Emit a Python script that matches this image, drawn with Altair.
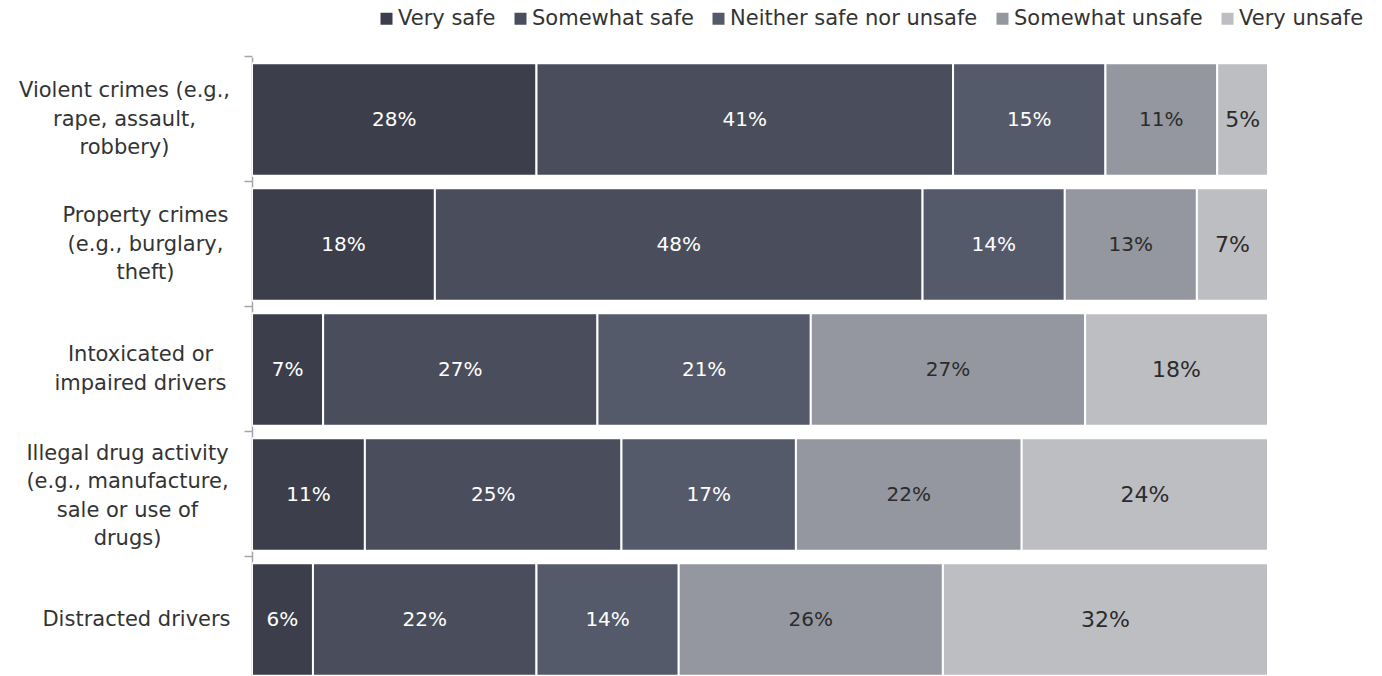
import altair as alt
import pandas as pd

categories = [
    "Violent crimes (e.g.,\nrape, assault,\nrobbery)",
    "Property crimes\n(e.g., burglary,\ntheft)",
    "Intoxicated or\nimpaired drivers",
    "Illegal drug activity\n(e.g., manufacture,\nsale or use of\ndrugs)",
    "Distracted drivers",
]
responses = ["Very safe", "Somewhat safe", "Neither safe nor unsafe", "Somewhat unsafe", "Very unsafe"]
values = [
    [28, 41, 15, 11, 5],
    [18, 48, 14, 13, 7],
    [7, 27, 21, 27, 18],
    [11, 25, 17, 22, 24],
    [6, 22, 14, 26, 32],
]
colors = ["#3c3f4b", "#4a4e5c", "#555a6a", "#94979f", "#bdbec2"]

rows = []
for ci, cat in enumerate(categories):
    for ri, resp in enumerate(responses):
        rows.append({"category": cat, "response": resp, "order": ri, "value": values[ci][ri]})
df = pd.DataFrame(rows)

FONT = "DejaVu Sans"
LH = 28.5


def nlines(n):
    return f"length(split(datum.label, '\\n')) == {n}"


label_offset = {
    "condition": [
        {"test": nlines(2), "value": -LH / 2},
        {"test": nlines(3), "value": -LH},
        {"test": nlines(4), "value": -1.5 * LH + 2},
    ],
    "value": 0,
}
label_padding = {
    "condition": [
        {"test": "indexof(datum.label, 'Violent') >= 0", "value": 120},
        {"test": "indexof(datum.label, 'Property') >= 0", "value": 99},
        {"test": "indexof(datum.label, 'Intoxicated') >= 0", "value": 104},
        {"test": "indexof(datum.label, 'Illegal') >= 0", "value": 117},
    ],
    "value": 108,
}

base = alt.Chart(df).transform_stack(
    stack="value", groupby=["category"], as_=["v0", "v1"],
    sort=[alt.SortField("order", order="ascending")], offset="normalize"
).transform_calculate(
    mid="(datum.v0 + datum.v1) / 2",
    label="datum.value + '%'"
)

yenc = alt.Y(
    "category:N", sort=categories, title=None,
    scale=alt.Scale(range=[0, 625], paddingInner=0.1, paddingOuter=0.05),
    axis=alt.Axis(
        labelExpr="split(datum.label, '\\n')",
        labelAlign="center", labelPadding=label_padding, labelOffset=label_offset,
        labelFontSize=21, labelLineHeight=LH,
        labelColor="#333333", labelFont=FONT, labelLimit=300,
        domainColor="#a6a6a6", tickColor="#a6a6a6", tickSize=8,
        bandPosition=-0.0556, tickExtra=False,
        domainWidth=1.5, tickWidth=1.5,
    ),
)

bars = base.mark_bar(stroke="white", strokeWidth=2, clip=True).encode(
    x=alt.X("v0:Q", axis=None, scale=alt.Scale(domain=[0, 1], nice=False)),
    x2="v1:Q",
    y=yenc,
    color=alt.Color(
        "response:N", sort=responses,
        scale=alt.Scale(domain=responses, range=colors),
        legend=alt.Legend(
            title=None, orient="none", direction="horizontal", columns=5,
            legendX=124, legendY=-49, symbolType="square", symbolSize=144,
            symbolStrokeWidth=0, labelFontSize=21, labelFont=FONT, labelColor="#333333",
            columnPadding=14, labelOffset=1, labelLimit=400,
        ),
    ),
)

text = base.mark_text(font=FONT, clip=True).encode(
    x=alt.X("mid:Q", scale=alt.Scale(domain=[0, 1], nice=False)),
    y=alt.Y("category:N", sort=categories),
    text="label:N",
    color=alt.condition(
        "datum.order >= 3", alt.value("#2b2b2b"), alt.value("#ffffff")
    ),
    size=alt.condition("datum.order == 4", alt.value(22), alt.value(20)),
)

chart = alt.layer(bars, text).properties(
    width=1016, height=619,
    autosize=alt.AutoSizeParams(type="none"),
    padding={"left": 252, "top": 57, "right": 114, "bottom": 0},
).configure_view(stroke=None)

chart.save("out.html", embed_options={"renderer": "svg", "actions": False})
